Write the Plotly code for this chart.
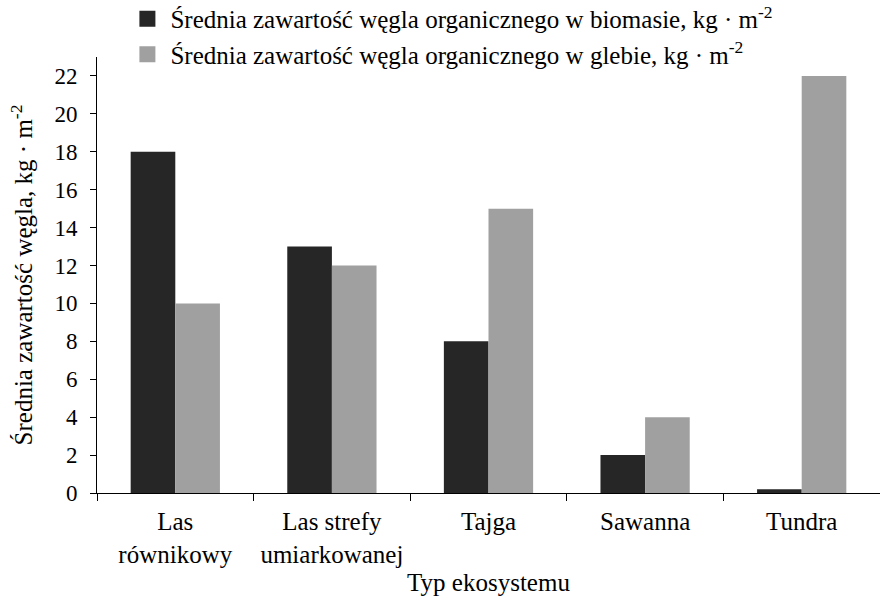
import plotly.graph_objects as go

categories = ["Las<br>równikowy", "Las strefy<br>umiarkowanej", "Tajga", "Sawanna", "Tundra"]
biomasa = [18, 13, 8, 2, 0.2]
gleba = [10, 12, 15, 4, 22]
y_ticks = [0, 2, 4, 6, 8, 10, 12, 14, 16, 18, 20, 22]

series_names = [
    "Średnia zawartość węgla organicznego w biomasie, kg · m<sup>-2</sup>",
    "Średnia zawartość węgla organicznego w glebie, kg · m<sup>-2</sup>",
]
series_colors = ["#262626", "#a0a0a0"]

serif = "Liberation Serif"
fs_tick = 23
fs_text = 25

fig = go.Figure()
for vals, name, color in zip([biomasa, gleba], series_names, series_colors):
    fig.add_trace(go.Bar(
        x=categories, y=vals, name=name, showlegend=False,
        marker=dict(color=color, line=dict(width=0)),
    ))

# legend entries with large square swatches
for name, color in zip(series_names, series_colors):
    fig.add_trace(go.Scatter(
        x=[None], y=[None], mode="markers", name=name,
        marker=dict(symbol="square", size=20, color=color),
    ))

fig.update_layout(
    width=880, height=598,
    margin=dict(l=97, r=0, t=57, b=105, autoexpand=False),
    paper_bgcolor="white", plot_bgcolor="white",
    font=dict(family=serif, size=fs_text, color="black"),
    barmode="group", bargap=0.43, bargroupgap=0,
    showlegend=True,
    legend=dict(
        x=0.035, y=1.14, xanchor="left", yanchor="top",
        font=dict(family=serif, size=fs_text, color="black"),
        bgcolor="rgba(0,0,0,0)", tracegroupgap=0,
        itemwidth=36,
    ),
    xaxis=dict(
        showline=True, linecolor="black", linewidth=1,
        ticks="outside", ticklen=7, tickcolor="black",
        tickson="boundaries", showgrid=False,
        tickfont=dict(family=serif, size=fs_text),
        ticklabelstandoff=6,
        title=dict(text="Typ ekosystemu", font=dict(family=serif, size=fs_text), standoff=6),
    ),
    yaxis=dict(
        range=[0, 23], tickvals=y_ticks,
        showline=True, linecolor="black", linewidth=1,
        ticks="outside", ticklen=6, tickcolor="black",
        showgrid=False, zeroline=False,
        tickfont=dict(family=serif, size=fs_tick),
        ticklabelstandoff=8,
        title=dict(text="Średnia zawartość węgla, kg · m<sup>-2</sup>",
                   font=dict(family=serif, size=fs_text), standoff=14),
    ),
)

fig.write_html("out.html")
